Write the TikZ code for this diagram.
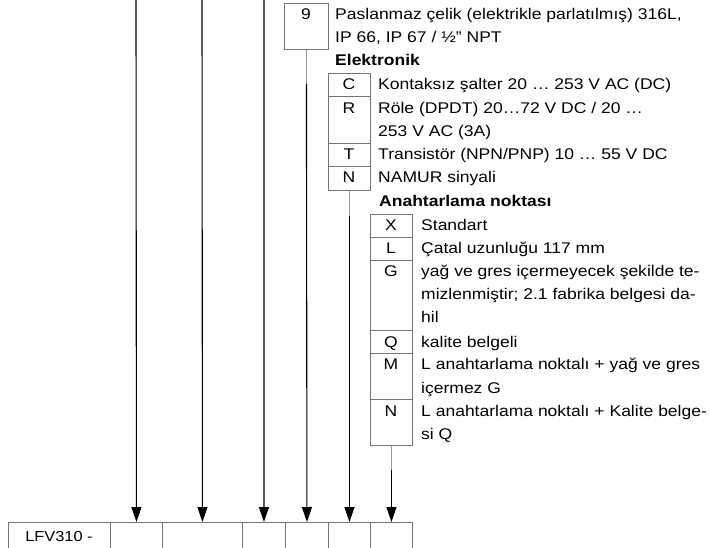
\documentclass[tikz,border=0pt]{standalone}
\usepackage{fontspec}
\setmainfont{Liberation Sans}[FakeStretch=1.13]
\usetikzlibrary{arrows.meta}
\begin{document}
\begin{tikzpicture}[x=1pt,y=-1pt,
  cell/.style={draw=black!55,line width=0.9pt,rectangle,inner sep=0pt},
  tx/.style={anchor=base west,inner sep=0pt,font=\fontsize{15.5}{18}\selectfont},
  hd/.style={anchor=base west,inner sep=0pt,font=\fontsize{15.5}{18}\selectfont\bfseries},
  ltr/.style={anchor=base,inner sep=0pt,font=\fontsize{15.5}{18}\selectfont},
  arr/.style={-{Triangle[width=10pt,length=15pt]},line width=1.1pt,black},
  feed/.style={line width=0.9pt,black!40}]
\useasboundingbox (0,0) rectangle (710,548);
\clip (0,0) rectangle (710,548);
% bottom table
\foreach \n/\a/\b in {c0/8/110,c1/110/162,c2/162/242,c3/242/285,c4/285/328,c5/328/370,c6/370/412}{
  \node[cell,minimum width=\b-\a,minimum height=40,anchor=north west] (\n) at (\a,522) {};
}
\node[ltr,font=\fontsize{14.5}{17}\selectfont] (lfv) at (59,541.5) {LFV310 -};
% free top ends
\coordinate (t1) at (136,0);
\coordinate (t2) at (202,0);
\coordinate (t3) at (264,0);
\draw[arr] (t1) -- (c1.north);
\draw[arr] (t2) -- (c2.north);
\draw[arr] (t3) -- (c3.north);
% box 9
\node[cell,minimum width=44,minimum height=46,anchor=north west] (b9) at (284,3) {};
\node[ltr] (l9) at (306,20) {9};
\node[tx] (p1) at (335,20) {Paslanmaz çelik (elektrikle parlatılmış) 316L,};
\node[tx] (p2) at (335,43) {IP 66, IP 67 / ½" NPT};
\node[hd] (h1) at (335,66) {Elektronik};
% electronics column
\node[cell,minimum width=42,minimum height=23.5,anchor=north west] (eC) at (328,73) {};
\node[cell,minimum width=42,minimum height=46.5,anchor=north west] (eR) at (328,96.5) {};
\node[cell,minimum width=42,minimum height=23,anchor=north west] (eT) at (328,143) {};
\node[cell,minimum width=42,minimum height=24,anchor=north west] (eN) at (328,166) {};
\node[ltr] (lC) at (349,90) {C};
\node[ltr] (lR) at (349,113.5) {R};
\node[ltr] (lT) at (349,160) {T};
\node[ltr] (lN) at (349,183) {N};
\node[tx] (tC) at (378,90) {Kontaksız şalter 20 … 253 V AC (DC)};
\node[tx] (tR) at (378,113.5) {Röle (DPDT) 20…72 V DC / 20 …};
\node[tx] (tR2) at (378,136.5) {253 V AC (3A)};
\node[tx] (tT) at (378,160) {Transistör (NPN/PNP) 10 … 55 V DC};
\node[tx] (tN) at (378,183) {NAMUR sinyali};
\node[hd] (h2) at (379,207) {Anahtarlama noktası};
% switching point column
\node[cell,minimum width=42,minimum height=23,anchor=north west] (sX) at (370,214) {};
\node[cell,minimum width=42,minimum height=23,anchor=north west] (sL) at (370,237) {};
\node[cell,minimum width=42,minimum height=70,anchor=north west] (sG) at (370,260) {};
\node[cell,minimum width=42,minimum height=23,anchor=north west] (sQ) at (370,330) {};
\node[cell,minimum width=42,minimum height=46,anchor=north west] (sM) at (370,353) {};
\node[cell,minimum width=42,minimum height=46,anchor=north west] (sN) at (370,399) {};
\node[ltr] (lX) at (391,231) {X};
\node[ltr] (lL) at (391,254) {L};
\node[ltr] (lG) at (391,277) {G};
\node[ltr] (lQ) at (391,347) {Q};
\node[ltr] (lM) at (391,370) {M};
\node[ltr] (lN2) at (391,416) {N};
\node[tx] (tX) at (421,231) {Standart};
\node[tx] (tL) at (421,254) {Çatal uzunluğu 117 mm};
\node[tx] (tG1) at (421,277) {yağ ve gres içermeyecek şekilde te-};
\node[tx] (tG2) at (421,300) {mizlenmiştir; 2.1 fabrika belgesi da-};
\node[tx] (tG3) at (421,323) {hil};
\node[tx] (tQ) at (421,347) {kalite belgeli};
\node[tx] (tM1) at (421,370) {L anahtarlama noktalı + yağ ve gres};
\node[tx] (tM2) at (421,393) {içermez G};
\node[tx] (tN1) at (421,416) {L anahtarlama noktalı + Kalite belge-};
\node[tx] (tN2) at (421,439) {si Q};
% connectors from boxes
\draw[feed] (b9.south) -- ++(0,34) coordinate (f9);
\draw[arr] (f9) -- (c4.north);
\draw[feed] (eN.south) -- ++(0,25) coordinate (fN);
\draw[arr] (fN) -- (c5.north);
\draw[feed] (sN.south) -- ++(0,24) coordinate (fS);
\draw[arr] (fS) -- (c6.north);
\end{tikzpicture}
\end{document}
